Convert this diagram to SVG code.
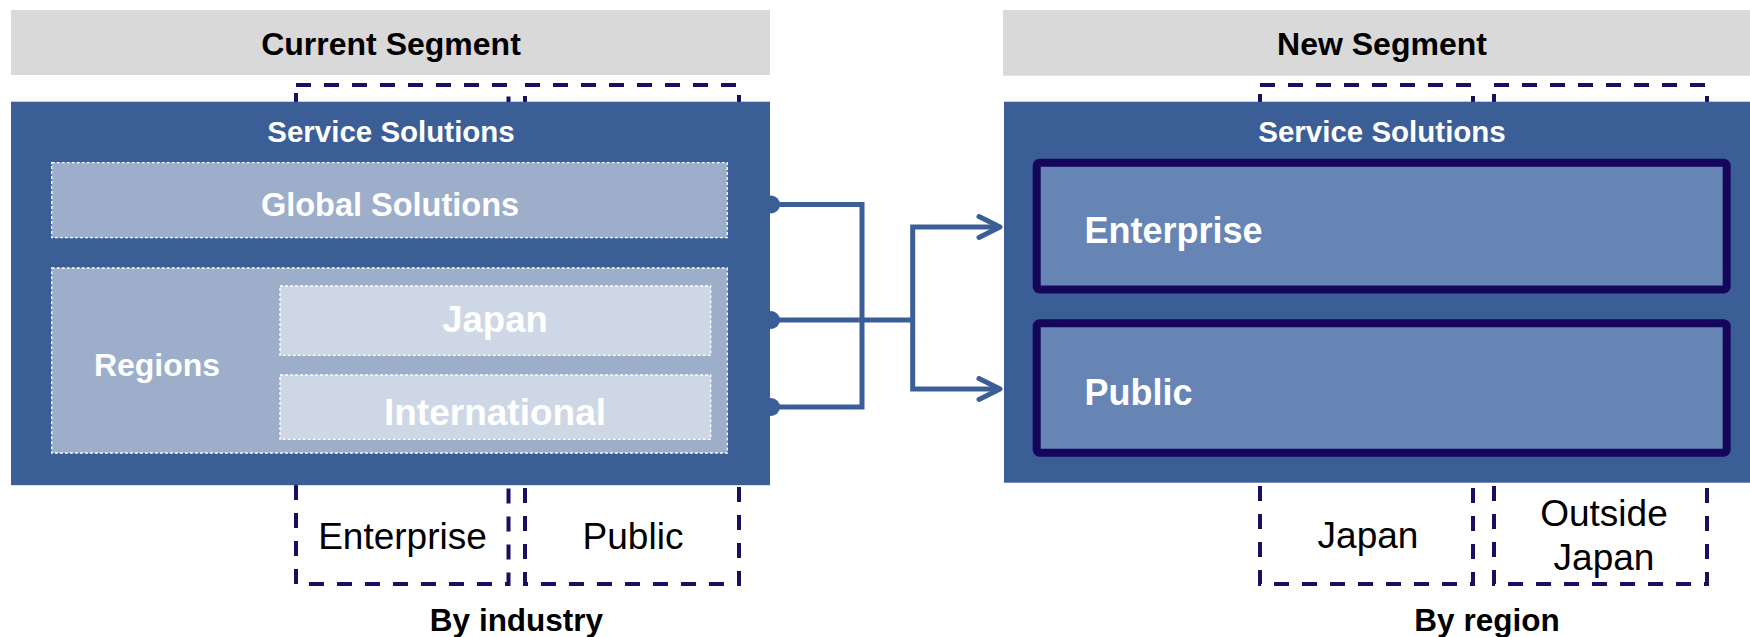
<svg xmlns="http://www.w3.org/2000/svg" width="1750" height="637" viewBox="0 0 1750 637">
  <defs>
    <style>
      .hdr { fill: #d9d9d9; }
      .panel { fill: #3b5e97; }
      .bracket { fill: none; stroke: #1a0f5e; stroke-width: 4; stroke-dasharray: 15 13; }
      .sub { fill: #9caeca; stroke: #ffffff; stroke-width: 1.3; stroke-dasharray: 3 2; }
      .subin { fill: #ced7e5; stroke: #ffffff; stroke-width: 1.3; stroke-dasharray: 3 2; }
      .seg { fill: #6685b5; stroke: #14065a; stroke-width: 8; }
      .t { font-family: "Liberation Sans", Arial, sans-serif; }
      .b { font-weight: bold; }
      .w { fill: #ffffff; }
      .k { fill: #000000; }
      .mid { text-anchor: middle; }
      .conn { fill: none; stroke: #3b5e97; stroke-width: 5; stroke-linejoin: miter; }
    </style>
    <marker id="chev" markerUnits="userSpaceOnUse" markerWidth="30" markerHeight="30" refX="0" refY="0" orient="auto" overflow="visible">
      <path d="M-21 -10.5 L0 0 L-21 10.5" fill="none" stroke="#3b5e97" stroke-width="5" stroke-linecap="round" stroke-linejoin="round"/>
    </marker>
  </defs>

  <!-- Current segment (left) -->
  <g id="current-header">
    <rect class="hdr" x="11" y="10" width="759" height="65"/>
    <text class="t b k mid" x="391" y="55" font-size="32">Current Segment</text>
  </g>

  <g id="by-industry">
    <rect class="bracket" x="296" y="85" width="212.5" height="499"/>
    <rect class="bracket" x="525" y="85" width="214" height="499"/>
    <text class="t k mid" x="402.5" y="549" font-size="37">Enterprise</text>
    <text class="t k mid" x="633" y="549" font-size="37">Public</text>
    <text class="t b k mid" x="516.5" y="631" font-size="31.5">By industry</text>
  </g>

  <g id="current-service-solutions">
    <rect class="panel" x="11" y="101.7" width="759" height="383.5"/>
    <text class="t b w mid" x="391" y="141.7" font-size="29.5">Service Solutions</text>
  </g>

  <g id="global-solutions">
    <rect class="sub" x="51.7" y="162.7" width="675.6" height="75"/>
    <text class="t b w mid" x="390" y="216" font-size="32.5">Global Solutions</text>
  </g>

  <g id="regions">
    <rect class="sub" x="51.7" y="268" width="675.6" height="185"/>
    <text class="t b w mid" x="157" y="376" font-size="32">Regions</text>
  </g>

  <g id="region-japan">
    <rect class="subin" x="280" y="286" width="430.7" height="69.3"/>
    <text class="t b w mid" x="495" y="332" font-size="36.5">Japan</text>
  </g>

  <g id="region-international">
    <rect class="subin" x="280" y="375" width="430.7" height="64.3"/>
    <text class="t b w mid" x="495" y="425" font-size="37">International</text>
  </g>

  <!-- New segment (right) -->
  <g id="new-header">
    <rect class="hdr" x="1003" y="10" width="747" height="65.7"/>
    <text class="t b k mid" x="1382" y="55" font-size="32">New Segment</text>
  </g>

  <g id="by-region">
    <rect class="bracket" x="1260" y="85" width="213" height="499"/>
    <rect class="bracket" x="1494" y="85" width="213" height="499"/>
    <text class="t k mid" x="1368" y="548" font-size="37">Japan</text>
    <text class="t k mid" x="1604" y="526" font-size="37">Outside</text>
    <text class="t k mid" x="1604" y="570" font-size="37">Japan</text>
    <text class="t b k mid" x="1487" y="631" font-size="31.5">By region</text>
  </g>

  <g id="new-service-solutions">
    <rect class="panel" x="1004" y="101.7" width="746" height="381"/>
    <text class="t b w mid" x="1382" y="141.7" font-size="29.5">Service Solutions</text>
  </g>

  <g id="segment-enterprise">
    <rect class="seg" x="1036.7" y="162.7" width="690" height="126.8" rx="3"/>
    <text class="t b w" x="1084.5" y="243.3" font-size="36">Enterprise</text>
  </g>

  <g id="segment-public">
    <rect class="seg" x="1036.7" y="323.3" width="690" height="129.5" rx="3"/>
    <text class="t b w" x="1084.5" y="405" font-size="36">Public</text>
  </g>

  <!-- Connectors: three sources merge, then split into two arrows -->
  <g id="connectors">
    <circle cx="771" cy="204.5" r="9" fill="#3b5e97"/>
    <circle cx="771" cy="320" r="9" fill="#3b5e97"/>
    <circle cx="771" cy="407" r="9" fill="#3b5e97"/>
    <path class="conn" d="M771 204.5 H862 V407 H771"/>
    <path class="conn" d="M771 320 H912.7"/>
    <path class="conn" d="M912.7 320 V227 H1000" marker-end="url(#chev)"/>
    <path class="conn" d="M912.7 320 V389 H1000" marker-end="url(#chev)"/>
  </g>
</svg>
